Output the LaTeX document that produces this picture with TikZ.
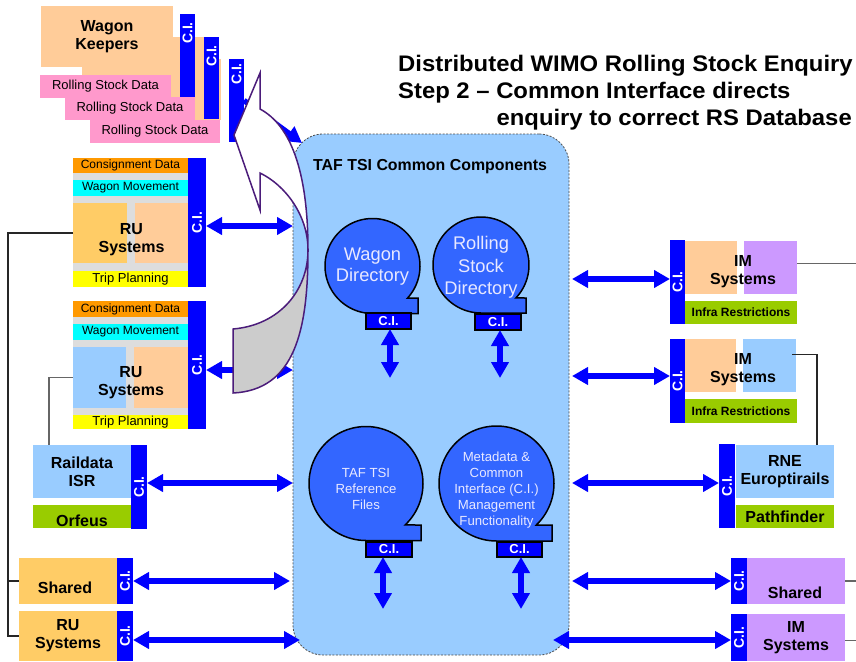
\documentclass[tikz,border=0pt]{standalone}
\usepackage{fontspec}
\setmainfont{Liberation Sans}
\newfontfamily\widesans[FakeStretch=1.06]{Liberation Sans}
\usetikzlibrary{arrows.meta,positioning}

\definecolor{ciblue}{HTML}{0000FF}
\definecolor{peach}{HTML}{FFCC99}
\definecolor{ltorange}{HTML}{FFCC66}
\definecolor{rspink}{HTML}{FF99CC}
\definecolor{cdorange}{HTML}{FF9900}
\definecolor{wmcyan}{HTML}{00FFFF}
\definecolor{tpyellow}{HTML}{FFFF00}
\definecolor{bggray}{HTML}{DDDDDD}
\definecolor{ltblue}{HTML}{99CCFF}
\definecolor{irgreen}{HTML}{99CC00}
\definecolor{lilac}{HTML}{CC99FF}
\definecolor{diskblue}{HTML}{3366FF}
\definecolor{disktext}{HTML}{E8E8FF}
\definecolor{bandline}{HTML}{4B1C7A}
\definecolor{bandgray}{HTML}{CCCCCC}

\tikzset{
  blk/.style={inner sep=0pt, outer sep=0pt, anchor=north west, align=center},
  cibar/.style={blk, fill=ciblue, text=white, font=\fontsize{14}{14}\selectfont\bfseries},
  citxt/.style={inner sep=0pt, text=white, font=\fontsize{14}{14}\selectfont\bfseries},
  cibox/.style={blk, fill=ciblue, draw=black, line width=1.5pt, text=white, font=\fontsize{13}{13}\selectfont\bfseries},
  bigtxt/.style={font=\fontsize{16}{18}\selectfont\bfseries},
  smalltxt/.style={font=\fontsize{12}{14}\selectfont},
  titletxt/.style={inner sep=0pt, font=\widesans\fontsize{22.5}{27}\selectfont\bfseries},
  biarrow/.style={draw=ciblue, line width=5.5pt, {Triangle[length=16pt,width=17pt]}-{Triangle[length=16pt,width=17pt]}},
  toarrow/.style={draw=ciblue, line width=5.5pt, -{Triangle[length=16pt,width=17pt]}},
  disk/.style={fill=diskblue, draw=black, line width=1.5pt},
  disktxt/.style={inner sep=0pt, align=center, text=disktext},
  ccbox/.style={blk, fill=ltblue, draw=black!70, line width=0.8pt, dash pattern=on 2pt off 1.5pt, rounded corners=30pt},
  link/.style={draw=black!85, line width=1.2pt},
  band/.style={draw=bandline, line width=1.5pt},
}

\begin{document}
\begin{tikzpicture}[x=1pt,y=-1pt]
	\useasboundingbox (0,0) rectangle (856,661);
	% title
	\node[titletxt, anchor=base west] (ttl1) at (398,71.3) {Distributed WIMO Rolling Stock Enquiry};
	\node[titletxt, anchor=base west] (ttl2) at (398,98.5) {Step 2 – Common Interface directs};
	\node[titletxt, anchor=base east] (ttl3) at (852,125.7) {enquiry to correct RS Database};
	% common components box
	\node[ccbox, minimum width=276, minimum height=521] (cc) at (293,134) {};
	\node[anchor=base west, inner sep=0pt, font=\fontsize{15.9}{18}\selectfont\bfseries] (cctitle) at (313,170) {TAF TSI Common Components};
	% directories
	\draw[disk] plot[domain=42.4:-270,samples=90] ({372.5+47.5*cos(\x)},{266+47.5*sin(\x)}) -- (418,313.5) -- (418,298) -- cycle;
	\draw[disk] plot[domain=43.4:-270,samples=90] ({481+48*cos(\x)},{265+48*sin(\x)}) -- (526,313) -- (526,298) -- cycle;
	\draw[disk] plot[domain=46.7:-270,samples=90] ({366+57*cos(\x)},{483.5+57*sin(\x)}) -- (421,540.5) -- (421,525) -- cycle;
	\draw[disk] plot[domain=46.2:-270,samples=90] ({496.5+57.5*cos(\x)},{483.5+57.5*sin(\x)}) -- (552,541) -- (552,525) -- cycle;
	\node[disktxt, font=\fontsize{18.3}{21}\selectfont] (wdtxt) at (372.5,266.5) {Wagon\\Directory};
	\node[disktxt, font=\fontsize{18.3}{22.5}\selectfont] (rsdtxt) at (481,267.5) {Rolling\\Stock\\Directory};
	\node[disktxt, font=\fontsize{13.2}{16}\selectfont] (taftxt) at (366,489) {TAF TSI\\Reference\\Files};
	\node[disktxt, font=\fontsize{13.2}{16}\selectfont] (metatxt) at (496.5,490) {Metadata \&\\Common\\Interface (C.I.)\\Management\\Functionality};
	\node[cibox, minimum width=45, minimum height=16] (ciwd) at (366,313) {C.I.};
	\node[cibox, minimum width=46, minimum height=16] (cirsd) at (475,314) {C.I.};
	\node[cibox, minimum width=46, minimum height=15] (citaf) at (366,542) {C.I.};
	\node[cibox, minimum width=45, minimum height=15] (cimeta) at (497,542) {C.I.};
	\coordinate (wdend) at (390,378);
	\coordinate (rsdend) at (500,378);
	\coordinate (tafend) at (383,609);
	\coordinate (metaend) at (521,609);
	\draw[biarrow] (ciwd.south -| wdend) -- (wdend);
	\draw[biarrow] (cirsd.south -| rsdend) -- (rsdend);
	\draw[biarrow] (citaf.south -| tafend) -- (tafend);
	\draw[biarrow] (cimeta.south -| metaend) -- (metaend);
	% wagon keepers, back card first
	\node[blk, fill=peach, minimum width=121, minimum height=61] (wk3) at (100,59) {};
	\node[blk, fill=rspink, minimum width=130, minimum height=23, font=\fontsize{13}{13}\selectfont] (rsd3) at (90,120) {Rolling Stock Data};
	\node[cibar, minimum width=15, minimum height=83] (ciwk3) at (229,59) {};
	\node[citxt, anchor=north] (ciwk3t) at ([yshift=-4pt]ciwk3.north) {\rotatebox{90}{C.I.}};
	\node[blk, fill=peach, minimum width=122, minimum height=60] (wk2) at (82,37) {};
	\node[blk, fill=rspink, minimum width=130, minimum height=23, font=\fontsize{13}{13}\selectfont] (rsd2) at (65,97) {Rolling Stock Data};
	\node[cibar, minimum width=15, minimum height=82] (ciwk2) at (204,37) {};
	\node[citxt, anchor=north] (ciwk2t) at ([yshift=-8pt]ciwk2.north) {\rotatebox{90}{C.I.}};
	\node[blk, fill=peach, minimum width=132, minimum height=61, bigtxt] (wk1) at (41,6) {Wagon\\Keepers};
	\node[blk, fill=rspink, minimum width=131, minimum height=23, font=\fontsize{13}{13}\selectfont] (rsd1) at (40,75) {Rolling Stock Data};
	\node[cibar, minimum width=15, minimum height=83] (ciwk1) at (180,14) {};
	\node[citxt, anchor=north] (ciwk1t) at ([yshift=-8pt]ciwk1.north) {\rotatebox{90}{C.I.}};
	% RU systems 1
	\node[blk, fill=bggray, minimum width=115, minimum height=129] (ru1bg) at (73,158) {};
	\node[blk, fill=cdorange, minimum width=115, minimum height=15, smalltxt] (cd1) at (73,158) {Consignment Data};
	\node[blk, fill=wmcyan, minimum width=115, minimum height=16, smalltxt] (wm1) at (73,180) {Wagon Movement};
	\node[blk, fill=ltorange, minimum width=54, minimum height=60] (ru1a) at (73,203) {};
	\node[blk, fill=peach, minimum width=53, minimum height=60] (ru1b) at (135,203) {};
	\node[blk, minimum width=115, minimum height=60] (ru1) at (73,203) {};
	\node[bigtxt, inner sep=0pt, align=center] (ru1t) at (131.5,240) {RU\\Systems};
	\node[blk, fill=tpyellow, minimum width=115, minimum height=16, font=\fontsize{13}{13}\selectfont] (tp1) at (73,271) {Trip Planning};
	\node[cibar, minimum width=18, minimum height=129] (ciru1) at (188,158) {\rotatebox{90}{C.I.}};
	% RU systems 2
	\node[blk, fill=bggray, minimum width=115, minimum height=128] (ru2bg) at (73,301) {};
	\node[blk, fill=cdorange, minimum width=115, minimum height=16, smalltxt] (cd2) at (73,301) {Consignment Data};
	\node[blk, fill=wmcyan, minimum width=115, minimum height=16, smalltxt] (wm2) at (73,324) {Wagon Movement};
	\node[blk, fill=ltblue, minimum width=53, minimum height=61] (ru2a) at (73,347) {};
	\node[blk, fill=peach, minimum width=54, minimum height=61] (ru2b) at (134,347) {};
	\node[blk, minimum width=115, minimum height=61] (ru2) at (73,347) {};
	\node[bigtxt, inner sep=0pt, align=center] (ru2t) at (131,383) {RU\\Systems};
	\node[blk, fill=tpyellow, minimum width=115, minimum height=14, font=\fontsize{13}{13}\selectfont] (tp2) at (73,415) {Trip Planning};
	\node[cibar, minimum width=18, minimum height=128] (ciru2) at (188,301) {\rotatebox{90}{C.I.}};
	% Raildata, shared, RU systems (left)
	\node[blk, fill=ltblue, minimum width=98, minimum height=53, bigtxt] (rail) at (33,445) {Raildata\\ISR};
	\node[blk, fill=irgreen, minimum width=98, minimum height=23] (orf) at (33,505) {};
	\node[bigtxt, inner sep=0pt] (orft) at (82,521) {Orfeus};
	\node[cibar, minimum width=16, minimum height=84] (cirail) at (131,445) {\rotatebox{90}{C.I.}};
	\node[blk, fill=ltorange, minimum width=98, minimum height=46] (shl) at (19,558) {};
	\node[bigtxt, inner sep=0pt] (shlt) at (65,588) {Shared};
	\node[cibar, minimum width=16, minimum height=46] (cishl) at (117,558) {\rotatebox{90}{C.I.}};
	\node[blk, fill=ltorange, minimum width=98, minimum height=50, bigtxt] (rub) at (19,611) {RU\\Systems};
	\node[cibar, minimum width=16, minimum height=50] (cirub) at (117,611) {\rotatebox{90}{C.I.}};
	% IM systems (right)
	\node[cibar, minimum width=15, minimum height=84] (ciim1) at (670,240) {\rotatebox{90}{C.I.}};
	\node[blk, fill=peach, minimum width=52, minimum height=53] (im1a) at (685,241) {};
	\node[blk, fill=lilac, minimum width=53, minimum height=53] (im1) at (744,241) {};
	\node[bigtxt, inner sep=0pt, align=center] (im1t) at (743,271.5) {IM\\Systems};
	\node[blk, fill=irgreen, minimum width=112, minimum height=23, font=\fontsize{12}{12}\selectfont\bfseries] (ir1) at (685,301) {Infra Restrictions};
	\node[cibar, minimum width=15, minimum height=84] (ciim2) at (670,339) {\rotatebox{90}{C.I.}};
	\node[blk, fill=peach, minimum width=51, minimum height=53] (im2a) at (685,339) {};
	\node[blk, fill=ltblue, minimum width=53, minimum height=53] (im2) at (743,339) {};
	\node[bigtxt, inner sep=0pt, align=center] (im2t) at (743,369.5) {IM\\Systems};
	\node[blk, fill=irgreen, minimum width=112, minimum height=24, font=\fontsize{12}{12}\selectfont\bfseries] (ir2) at (685,399) {Infra Restrictions};
	\node[cibar, minimum width=16, minimum height=84] (cirne) at (719,444) {\rotatebox{90}{C.I.}};
	\node[blk, fill=ltblue, minimum width=98, minimum height=53, bigtxt] (rne) at (736,445) {RNE\\Europtirails};
	\node[blk, fill=irgreen, minimum width=98, minimum height=23, bigtxt] (pf) at (736,505) {Pathfinder};
	\node[cibar, minimum width=16, minimum height=46] (cishr) at (731,558) {\rotatebox{90}{C.I.}};
	\node[blk, fill=lilac, minimum width=98, minimum height=46] (shr) at (747,558) {};
	\node[bigtxt, inner sep=0pt] (shrt) at (795,593) {Shared};
	\node[cibar, minimum width=16, minimum height=47] (ciimb) at (731,614) {\rotatebox{90}{C.I.}};
	\node[blk, fill=lilac, minimum width=98, minimum height=47, bigtxt] (imb) at (747,614) {IM\\Systems};
	% interface arrows
	\draw[biarrow] ([yshift=-3.5pt]ciru1.east) -- ([yshift=-3.5pt]ciru1.east -| cc.west);
	\draw[biarrow] ([yshift=-5pt]ciru2.east) -- ([yshift=-5pt]ciru2.east -| cc.west);
	\draw[biarrow] ([yshift=4pt]cirail.east) -- ([yshift=4pt]cirail.east -| cc.west);
	\draw[biarrow] (cishl.east) -- ([xshift=-3pt]cishl.east -| cc.west);
	\draw[biarrow] ([yshift=-4pt]cirub.east) -- ([xshift=7pt,yshift=-4pt]cirub.east -| cc.west);
	\draw[biarrow] ([yshift=3pt]ciim1.west) -- ([xshift=3pt,yshift=3pt]ciim1.west -| cc.east);
	\draw[biarrow] ([yshift=5pt]ciim2.west) -- ([xshift=3pt,yshift=5pt]ciim2.west -| cc.east);
	\draw[biarrow] ([yshift=3pt]cirne.west) -- ([xshift=3pt,yshift=3pt]cirne.west -| cc.east);
	\draw[biarrow] (cishr.west) -- ([xshift=3pt]cishr.west -| cc.east);
	\draw[biarrow] ([yshift=-2.5pt]ciimb.west) -- ([xshift=-16pt,yshift=-2.5pt]ciimb.west -| cc.east);
	\draw[toarrow] (ciwk3.east) -- ([xshift=9pt,yshift=-9pt]cc.north west);
	% system links
	\draw[link] (ru1.west) -- ++(-65,0) |- (rub.west);
	\draw[link] (shl.west) -- ++(-11,0);
	\draw[link, draw=black!60] (ru2.west) -| ([xshift=-33pt]rail.north);
	\draw[link, draw=black!60] ([yshift=4pt]im1.east) -- ++(59,0);
	\draw[link] ([xshift=-4pt,yshift=11pt]im2.east) -| ([xshift=32pt]rne.north);
	\draw[link, draw=black!60] (shr.east) -- ++(11,0);
	\draw[link, draw=black!60] ([yshift=-3pt]imb.east) -- ++(11,0);
	% curved arrow
	\draw[band, fill=white] (260,109) .. controls (290,125) and (308,170) .. (308,250) .. controls (308,215) and (285,185) .. (260,173) -- (260,210) -- (234,135) -- (260,73) -- cycle;
	\draw[band, fill=bandgray] (308,250) .. controls (308,330) and (295,390) .. (233,393) -- (233,329) .. controls (280,325) and (308,290) .. (308,250) -- cycle;
\end{tikzpicture}
\end{document}
